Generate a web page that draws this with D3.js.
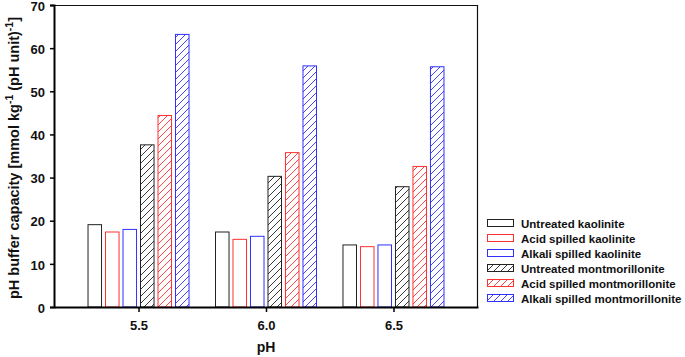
<!DOCTYPE html>
<html>
<head>
<meta charset="utf-8">
<script src="https://cdn.jsdelivr.net/npm/d3@7"></script>
<style>
  body { margin: 0; background: #fff; }
  svg { font-family: "Liberation Sans", Arial, sans-serif; font-weight: bold; }
  .tick text { font-size: 13px; font-weight: bold; fill: #111; }
</style>
</head>
<body>
<svg width="685" height="357"></svg>
<script>
var margin = { top: 5, right: 207, bottom: 50, left: 54 }
    , width = 685 - margin.left - margin.right
    , height = 357 - margin.top - margin.bottom;

// data
var phLevels = ["5.5", "6.0", "6.5"];
var seriesNames = [
    "Untreated kaolinite",
    "Acid spilled kaolinite",
    "Alkali spilled kaolinite",
    "Untreated montmorillonite",
    "Acid spilled montmorillonite",
    "Alkali spilled montmorillonite"
];
var untreatedKaolinite = [19.2, 17.5, 14.5];
var acidKaolinite = [17.5, 15.8, 14.1];
var alkaliKaolinite = [18.1, 16.5, 14.5];
var untreatedMont = [37.7, 30.4, 28.0];
var acidMont = [44.5, 35.9, 32.7];
var alkaliMont = [63.3, 56.0, 55.8];
var yTicks = [0, 10, 20, 30, 40, 50, 60, 70];

var seriesValues = [untreatedKaolinite, acidKaolinite, alkaliKaolinite, untreatedMont, acidMont, alkaliMont];
var seriesColor = ["#222", "#ff3030", "#3030ff", "#222", "#ff3030", "#3030ff"];
var seriesHatched = [false, false, false, true, true, true];

var svg = d3.select("svg");

// hatch patterns
var defs = svg.append("defs");
var hatchId = {};
["#222", "#ff3030", "#3030ff"].forEach(function (c, k) {
    hatchId[c] = "hatch-" + k;
    var p = defs.append("pattern")
        .attr("id", hatchId[c])
        .attr("patternUnits", "userSpaceOnUse")
        .attr("width", 7)
        .attr("height", 7);
    p.append("path")
        .attr("d", "M-1,8 L8,-1 M-4.5,4.5 L4.5,-4.5 M2.5,11.5 L11.5,2.5")
        .attr("stroke", c)
        .attr("stroke-width", 0.9)
        .attr("fill", "none");
});

var g = svg.append("g")
    .attr("transform", "translate(" + margin.left + "," + margin.top + ")");

var x = d3.scalePoint()
    .domain(phLevels)
    .range([0, width])
    .padding(0.663);

var xInner = d3.scaleBand()
    .domain(d3.range(seriesNames.length))
    .range([-51, 51])
    .paddingInner(0.17);

var y = d3.scaleLinear()
    .domain([0, 70])
    .range([height, 0]);

// bars
var rows = [];
seriesValues.forEach(function (vals, s) {
    vals.forEach(function (v, i) {
        rows.push({ ph: phLevels[i], s: s, value: v });
    });
});

g.append("g")
    .selectAll("rect")
    .data(rows)
    .enter()
    .append("rect")
    .attr("x", function (d) { return x(d.ph) + xInner(d.s) + 0.5; })
    .attr("y", function (d) { return y(d.value) + 0.5; })
    .attr("width", xInner.bandwidth() - 1)
    .attr("height", function (d) { return height - y(d.value) - 0.5; })
    .attr("fill", function (d) {
        return seriesHatched[d.s] ? "url(#" + hatchId[seriesColor[d.s]] + ")" : "none";
    })
    .attr("stroke", function (d) { return seriesColor[d.s]; })
    .attr("stroke-width", 1);

// frame: top and right thin
g.append("path")
    .attr("d", "M0,0.5 H" + (width - 0.5) + " V" + height)
    .attr("fill", "none")
    .attr("stroke", "#111")
    .attr("stroke-width", 1.2);

// axes
var yAxis = g.append("g")
    .call(d3.axisLeft(y).tickValues(yTicks).tickSize(4).tickPadding(5));
yAxis.select(".domain").attr("stroke-width", 2);
yAxis.selectAll(".tick line").attr("stroke-width", 1.5);
yAxis.selectAll(".tick text").attr("dy", "0.4em");

var xAxis = g.append("g")
    .attr("transform", "translate(0," + height + ")")
    .call(d3.axisBottom(x).tickSize(5).tickSizeOuter(0).tickPadding(9));
xAxis.select(".domain").attr("stroke-width", 2);
xAxis.selectAll(".tick line").attr("stroke-width", 1.5);

// axis titles
g.append("text")
    .attr("x", x("6.0"))
    .attr("y", height + 45)
    .attr("text-anchor", "middle")
    .style("font-size", "14px")
    .attr("fill", "#111")
    .text("pH");

var yTitle = g.append("text")
    .attr("transform", "translate(-35," + (height / 2 + 2) + ") rotate(-90)")
    .attr("text-anchor", "middle")
    .attr("fill", "#111")
    .style("font-size", "14.5px");
yTitle.append("tspan").text("pH buffer capacity [mmol kg");
yTitle.append("tspan").attr("dy", -6).style("font-size", "10.5px").text("-1");
yTitle.append("tspan").attr("dy", 6).text(" (pH unit)");
yTitle.append("tspan").attr("dy", -6).style("font-size", "10.5px").text("-1");
yTitle.append("tspan").attr("dy", 6).text("]");

// legend
var legend = svg.append("g")
    .attr("transform", "translate(487,219)");

var item = legend.selectAll("g")
    .data(seriesNames)
    .enter()
    .append("g")
    .attr("transform", function (d, i) { return "translate(0," + (i * 15) + ")"; });

item.append("rect")
    .attr("x", 0.5)
    .attr("y", 0.5)
    .attr("width", 26)
    .attr("height", 7)
    .attr("fill", function (d, i) {
        return seriesHatched[i] ? "url(#" + hatchId[seriesColor[i]] + ")" : "none";
    })
    .attr("stroke", function (d, i) { return seriesColor[i]; });

item.append("text")
    .attr("x", 34)
    .attr("y", 8.5)
    .attr("fill", "#111")
    .style("font-size", "11.5px")
    .text(function (d) { return d; });
</script>
</body>
</html>
